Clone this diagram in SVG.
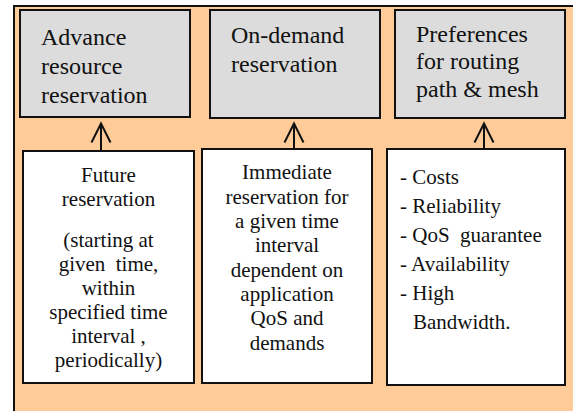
<svg xmlns="http://www.w3.org/2000/svg" width="573" height="411" viewBox="0 0 573 411">
  <style>
    .outer { fill: #FFCC99; stroke: #111; stroke-width: 2; }
    .head { fill: #DCDCDC; stroke: #111; stroke-width: 2; }
    .body { fill: #FFFFFF; stroke: #111; stroke-width: 2; }
    .t { fill: #111; white-space: pre; }
    .big { font-size: 24px; }
    .small { font-size: 21px; }
    .mid { text-anchor: middle; }
    .conn { stroke: #111; stroke-width: 2; fill: none; }
  </style>
  <defs>
    <marker id="vhead" markerUnits="userSpaceOnUse" markerWidth="30" markerHeight="30" refX="0" refY="0" orient="auto" overflow="visible">
      <path d="M -19 -9.5 L 0 0 L -19 9.5" fill="none" stroke="#111" stroke-width="2"/>
    </marker>
  </defs>
  <rect x="0" y="0" width="573" height="411" fill="#FFFFFF"/>
  <rect class="outer" x="14" y="6" width="600" height="460"/>

  <g font-family="Liberation Serif, Tinos, DejaVu Serif, Times New Roman, serif">
  <g id="advance">
    <rect class="head" x="20" y="10" width="170" height="107"/>
    <text class="t big" x="41" y="45">Advance</text>
    <text class="t big" x="41" y="74">resource</text>
    <text class="t big" x="41" y="103">reservation</text>
  </g>
  <g id="ondemand">
    <rect class="head" x="210" y="10" width="170" height="108"/>
    <text class="t big" x="231" y="43">On-demand</text>
    <text class="t big" x="231" y="72">reservation</text>
  </g>
  <g id="preferences">
    <rect class="head" x="395" y="10" width="170" height="108"/>
    <text class="t big" x="416" y="42">Preferences</text>
    <text class="t big" x="416" y="69">for routing</text>
    <text class="t big" x="416" y="97">path &amp; mesh</text>
  </g>

  <g id="future">
    <rect class="body" x="23" y="151" width="171" height="232"/>
    <text class="t small mid" x="108.5" y="182">Future</text>
    <text class="t small mid" x="108.5" y="206">reservation</text>
    <text class="t small mid" x="108.5" y="247">(starting at</text>
    <text class="t small mid" x="108.5" y="271">given  time,</text>
    <text class="t small mid" x="108.5" y="295">within</text>
    <text class="t small mid" x="108.5" y="319">specified time</text>
    <text class="t small mid" x="108.5" y="343">interval ,</text>
    <text class="t small mid" x="108.5" y="367">periodically)</text>
  </g>
  <g id="immediate">
    <rect class="body" x="202" y="149" width="170" height="234"/>
    <text class="t small mid" x="287" y="179">Immediate</text>
    <text class="t small mid" x="287" y="203.5">reservation for</text>
    <text class="t small mid" x="287" y="228">a given time</text>
    <text class="t small mid" x="287" y="252">interval</text>
    <text class="t small mid" x="287" y="276.5">dependent on</text>
    <text class="t small mid" x="287" y="301">application</text>
    <text class="t small mid" x="287" y="325">QoS and</text>
    <text class="t small mid" x="287" y="350">demands</text>
  </g>
  <g id="criteria">
    <rect class="body" x="387" y="149" width="178" height="236"/>
    <text class="t small" x="400" y="184">- Costs</text>
    <text class="t small" x="400" y="213">- Reliability</text>
    <text class="t small" x="400" y="242">- QoS  guarantee</text>
    <text class="t small" x="400" y="271">- Availability</text>
    <text class="t small" x="400" y="300">- High</text>
    <text class="t small" x="413" y="329">Bandwidth.</text>
  </g>
  </g>

  <g id="connectors">
    <line class="conn" x1="101" y1="151" x2="101" y2="123.5" marker-end="url(#vhead)"/>
    <line class="conn" x1="294" y1="149" x2="294" y2="123.5" marker-end="url(#vhead)"/>
    <line class="conn" x1="484" y1="149" x2="484" y2="123.5" marker-end="url(#vhead)"/>
  </g>
</svg>
